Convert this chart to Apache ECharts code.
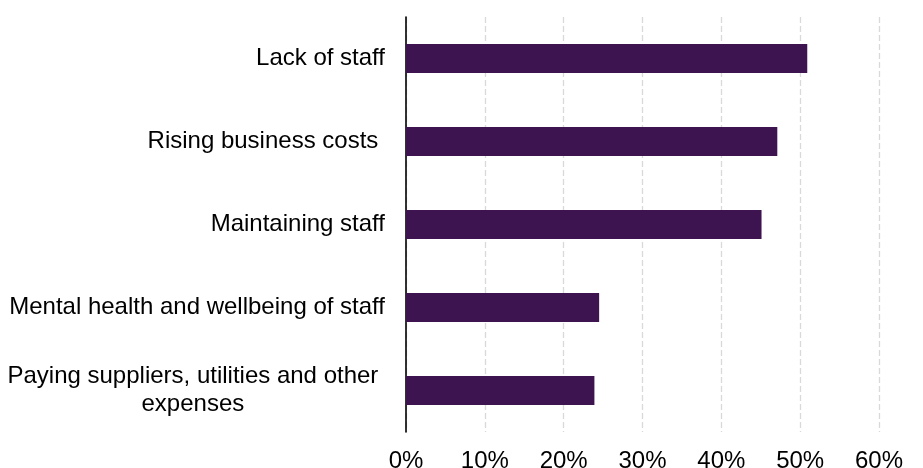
<!DOCTYPE html>
<html>
<head>
<meta charset="utf-8">
<script src="https://cdn.jsdelivr.net/npm/echarts@6/dist/echarts.min.js"></script>
<style>
  html, body { margin: 0; padding: 0; background: #ffffff; }
  #chart { width: 923px; height: 468px; }
</style>
</head>
<body>
<div id="chart"></div>
<script>
// Main challenges reported, share of respondents (%)
const categories = [
  'Lack of staff',
  'Rising business costs ',
  'Maintaining staff',
  'Mental health and wellbeing of staff',
  'Paying suppliers, utilities and other \nexpenses '
];
const shares = [50.9, 47.1, 45.1, 24.5, 23.9];
const tickMin = 0;
const tickMax = 60;
const tickStep = 10;

const FONT = '"Liberation Sans", Arial, sans-serif';
const chart = echarts.init(document.getElementById('chart'), null, { renderer: 'canvas' });

chart.setOption({
  animation: false,
  backgroundColor: '#ffffff',
  grid: {
    left: 406, right: 44, top: 17, bottom: 36,
    containLabel: false,
    outerBoundsMode: 'none'
  },
  xAxis: {
    type: 'value',
    min: tickMin,
    max: tickMax,
    interval: tickStep,
    axisLine: { show: false },
    axisTick: { show: false },
    splitLine: {
      show: true,
      lineStyle: { color: '#d9d9d9', width: 1.3, type: [6, 3] }
    },
    axisLabel: {
      color: '#000000',
      fontFamily: FONT,
      fontSize: 24,
      margin: 17,
      formatter: v => v + '%'
    }
  },
  yAxis: {
    type: 'category',
    data: categories,
    inverse: true,
    axisLine: { show: true, lineStyle: { color: '#000000', width: 1.6 } },
    axisTick: { show: false },
    splitLine: { show: false },
    axisLabel: {
      color: '#000000',
      fontFamily: FONT,
      fontSize: 24,
      lineHeight: 28,
      margin: 21,
      formatter: v => v.indexOf('\n') >= 0 ? '{c|' + v + '}' : v,
      rich: {
        c: {
          align: 'center',
          color: '#000000',
          fontFamily: FONT,
          fontSize: 24,
          lineHeight: 28
        }
      }
    }
  },
  series: [{
    type: 'bar',
    data: shares,
    barWidth: 29,
    itemStyle: { color: '#3e1450' },
    z: 3
  }]
});
</script>
</body>
</html>
